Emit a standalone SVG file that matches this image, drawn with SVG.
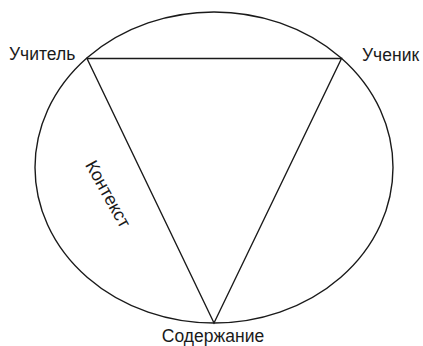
<svg xmlns="http://www.w3.org/2000/svg" width="423" height="346" viewBox="0 0 423 346">
<style>
.ln{fill:none;stroke:#1a1a1a;stroke-width:1.4}
.t{font-family:"Liberation Sans",Arial,sans-serif;font-size:17.5px;fill:#1a1a1a}
</style>
<rect width="423" height="346" fill="#fff"/>
<g id="connectors">
<ellipse class="ln" cx="214" cy="167.5" rx="179" ry="155.5"/>
<polygon class="ln" points="87,58.5 341.5,58.5 214,323" stroke-linejoin="miter"/>
</g>
<g id="teacher"><text class="t" x="9" y="60">Учитель</text></g>
<g id="student"><text class="t" x="362" y="61">Ученик</text></g>
<g id="content"><text class="t" x="213" y="342" text-anchor="middle">Содержание</text></g>
<g id="context"><text class="t" style="font-size:18px" transform="translate(108,194) rotate(61)" x="0" y="6" text-anchor="middle">Контекст</text></g>
</svg>
